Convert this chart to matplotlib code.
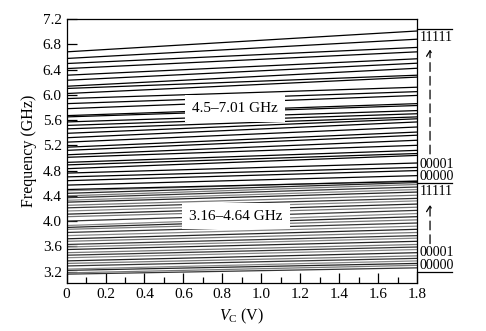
import numpy as np
import matplotlib.pyplot as plt

plt.rcParams['font.family'] = ['Liberation Serif', 'DejaVu Serif']
plt.rcParams['mathtext.fontset'] = 'custom'
plt.rcParams['mathtext.rm'] = 'Liberation Serif'
plt.rcParams['mathtext.it'] = 'Liberation Serif:italic'

# control voltage end points
vc = [0.0, 1.8]

# high band (4.5-7.01 GHz): frequency at Vc=0 and Vc=1.8
hi_start = [6.68, 6.575, 6.495, 6.415, 6.31, 6.23, 6.135, 6.10, 6.02, 5.94,
            5.86, 5.78, 5.67, 5.65, 5.57, 5.515, 5.46, 5.39, 5.32, 5.25,
            5.17, 5.12, 5.05, 5.01, 4.93, 4.89, 4.83, 4.76, 4.70, 4.64,
            4.57, 4.50]
hi_end = [7.01, 6.88, 6.75, 6.68, 6.57, 6.50, 6.42, 6.31, 6.28, 6.12,
          6.05, 5.99, 5.86, 5.83, 5.75, 5.70, 5.65, 5.62, 5.57, 5.49,
          5.41, 5.36, 5.28, 5.20, 5.12, 5.07, 5.04, 4.92, 4.85, 4.80,
          4.72, 4.63]
hi_col = ['k'] * 32

# low band (3.16-4.64 GHz)
lo_start = [3.16, 3.18, 3.22, 3.24, 3.29, 3.33, 3.37, 3.42, 3.46, 3.50,
            3.55, 3.59, 3.63, 3.68, 3.72, 3.77, 3.82, 3.87, 3.90, 3.93,
            4.00, 4.07, 4.11, 4.16, 4.21, 4.25, 4.30, 4.33, 4.37, 4.40,
            4.44, 4.48]
lo_end = [3.26, 3.30, 3.33, 3.37, 3.41, 3.45, 3.50, 3.55, 3.59, 3.63,
          3.68, 3.73, 3.77, 3.82, 3.87, 3.92, 3.97, 4.02, 4.07, 4.12,
          4.17, 4.22, 4.27, 4.32, 4.36, 4.41, 4.46, 4.50, 4.54, 4.58,
          4.61, 4.64]
lo_col = ['#333333', '#777777', '#222222', '#888888'] * 8

# side annotations (code words)
code_txt = ['11111', '00001', '00000', '11111', '00001', '00000']
code_y = [6.91, 4.895, 4.70, 4.47, 3.50, 3.30]
sep_y = [7.04, 4.60, 3.20]

fig = plt.figure(figsize=(4.86, 3.31), dpi=100)
ax = fig.add_axes([0.137, 0.145, 0.721, 0.7976])

for s, e, c in zip(lo_start, lo_end, lo_col):
    ax.plot(vc, [s, e], color=c, lw=0.9)
for s, e, c in zip(hi_start, hi_end, hi_col):
    ax.plot(vc, [s, e], color=c, lw=0.9)

ax.text(0.865, 5.785, '4.5\u20137.01 GHz', fontsize=11, ha='center', va='center',
        bbox=dict(fc='white', ec='none', pad=5), zorder=5)
ax.text(0.87, 4.08, '3.16\u20134.64 GHz', fontsize=11, ha='center', va='center',
        bbox=dict(fc='white', ec='none', pad=5), zorder=5)

for t, y in zip(code_txt, code_y):
    ax.text(1.815, y, t, fontsize=10, ha='left', va='center', clip_on=False)
for y in sep_y:
    ax.plot([1.8, 1.98], [y, y], color='k', lw=0.9, clip_on=False)

ax.annotate('', xy=(1.867, 6.76), xytext=(1.867, 5.02),
            arrowprops=dict(arrowstyle='->,head_length=0.4,head_width=0.25',
                            ls=(0, (7, 4)), lw=0.9, color='k'),
            annotation_clip=False)
ax.annotate('', xy=(1.867, 4.30), xytext=(1.867, 3.60),
            arrowprops=dict(arrowstyle='->,head_length=0.4,head_width=0.25',
                            ls=(0, (7, 4)), lw=0.9, color='k'),
            annotation_clip=False)

ax.set_xlim(0, 1.8)
ax.set_ylim(3.02, 7.2)
ax.set_xticks(np.arange(0, 1.81, 0.2))
ax.set_xticks(np.arange(0.1, 1.8, 0.2), minor=True)
ax.set_yticks(np.arange(3.2, 7.21, 0.4))
ax.set_xticklabels(['0', '0.2', '0.4', '0.6', '0.8', '1.0', '1.2', '1.4', '1.6', '1.8'])
ax.yaxis.set_major_formatter(plt.FormatStrFormatter('%.1f'))
ax.tick_params(direction='in', which='major', length=7, labelsize=11, width=0.9)
ax.tick_params(direction='in', which='minor', length=4, width=0.9)
for sp in ax.spines.values():
    sp.set_linewidth(0.9)

ax.set_xlabel('$V_\\mathrm{C}$ (V)', fontsize=11.5)
ax.set_ylabel('Frequency (GHz)', fontsize=11.5)

fig.savefig('out.png', dpi=100)
